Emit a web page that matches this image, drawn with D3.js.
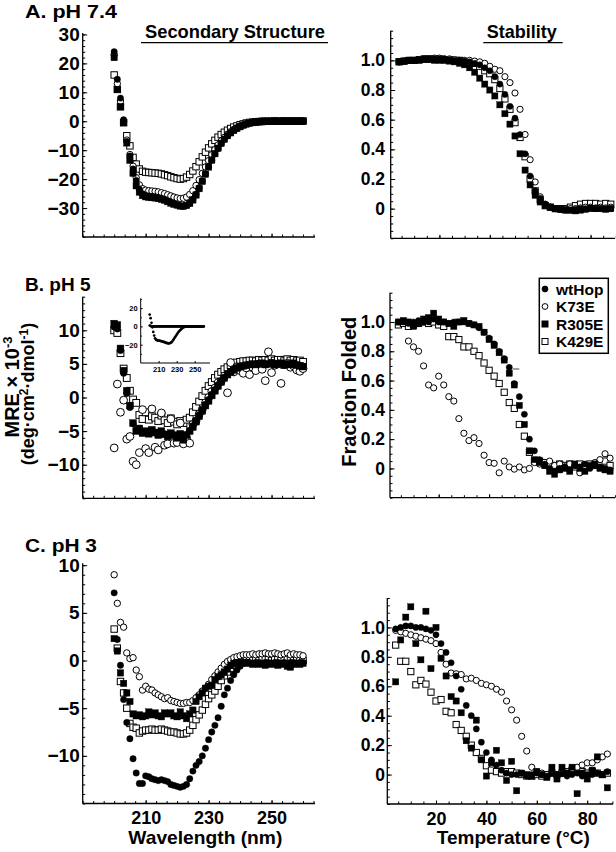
<!DOCTYPE html>
<html><head><meta charset="utf-8">
<script src="https://cdn.jsdelivr.net/npm/d3@7"></script>
<style>
body{margin:0;background:#fff}
svg{display:block}
text{font-family:"Liberation Sans",Arial,Helvetica,sans-serif;font-weight:bold;fill:#000}
</style>
</head><body>
<svg id="chart" width="616" height="852"></svg>
<script>
// ---------------- DATA ----------------
const wavelengths = [200,201,202,203,204,205,206,207,208,209,210,211,212,213,214,215,216,217,218,219,220,221,222,223,224,225,226,227,228,229,230,231,232,233,234,235,236,237,238,239,240,241,242,243,244,245,246,247,248,249,250,251,252,253,254,255,256,257,258,259,260];
const temperatures = [4,6,8,10,12,14,16,18,20,22,24,26,28,30,32,34,36,38,40,42,44,46,48,50,52,54,56,58,60,62,64,66,68,70,72,74,76,78,80,82,84,86,88];
const seriesNames = ["wtHop","K73E","R305E","K429E"];
const panelTitles = ["A. pH 7.4","B. pH 5","C. pH 3"];
const wavelengthTickLabels = [210,230,250];
const temperatureTickLabels = [20,40,60,80];

// A. pH 7.4 — CD spectra (MRE x 10^-3)
const cdA_wtHop = [24,14.5,8,0.5,-7,-12,-16.5,-20.5,-23.5,-25,-25.6,-25.8,-26,-26.1,-26.3,-26.6,-27,-27.5,-28,-28.5,-28.9,-29.2,-29.3,-29,-28.3,-27,-25.2,-23,-20.6,-18.2,-15.8,-13.5,-11.3,-9.4,-7.7,-6.3,-5,-4,-3.1,-2.4,-1.8,-1.3,-0.9,-0.6,-0.4,-0.25,-0.15,-0.1,-0.1,0,0,0.1,0,0,0.1,0,0,0.1,0,0.1,0];
const cdA_K73E = [23,13,7,0,-6.5,-11.5,-15.5,-19.5,-22,-23.3,-23.8,-24,-24.1,-24.2,-24.4,-24.7,-25,-25.4,-25.8,-26.2,-26.5,-26.7,-26.6,-26.2,-25.3,-24,-22.2,-20.2,-18,-15.8,-13.6,-11.6,-9.8,-8.2,-6.8,-5.6,-4.5,-3.6,-2.8,-2.2,-1.6,-1.2,-0.8,-0.5,-0.3,-0.2,-0.1,0,0,0,0.1,0,0.1,0.1,0,0.1,0.1,0,0.1,0.1,0.1];
const cdA_R305E = [22,11,5,-0.5,-7.5,-13.5,-18,-22.3,-24.5,-25.7,-26.1,-26.3,-26.4,-26.5,-26.7,-27,-27.3,-27.8,-28.3,-28.7,-29,-29.3,-29.4,-29.1,-28.4,-27.2,-25.5,-23.3,-20.8,-18.3,-15.8,-13.4,-11.2,-9.3,-7.6,-6.2,-5,-4,-3.2,-2.5,-1.9,-1.4,-1,-0.7,-0.5,-0.3,-0.2,-0.2,-0.1,-0.1,-0.1,0,-0.1,0,0,-0.1,0,0,0,0,0];
const cdA_K429E = [16,11,5,-0.5,-5,-8.5,-12.5,-14.8,-16.5,-17.3,-17.6,-17.7,-17.8,-17.9,-18,-18.2,-18.5,-18.8,-19.2,-19.5,-19.8,-20,-19.8,-19.3,-18.4,-17.2,-15.7,-14,-12.3,-10.7,-9.2,-7.8,-6.6,-5.5,-4.6,-3.8,-3.1,-2.5,-2,-1.6,-1.2,-0.9,-0.6,-0.4,-0.3,-0.2,-0.1,0,0,0,0,0.1,0,0,0.1,0.1,0,0.1,0,0.1,0.1];

// B. pH 5 — CD spectra
const cdB_wtHop = [10.5,10.2,7,3.6,0.6,-1.5,-3.9,-4.8,-4.9,-5.1,-5.2,-5.2,-5.1,-5.3,-5.4,-5.3,-5.4,-5.5,-5.5,-5.6,-5.7,-5.6,-5.8,-5.5,-4.9,-4.2,-3.4,-2.6,-1.8,-1,-0.3,0.5,1.2,1.9,2.5,3,3.5,3.9,4.2,4.4,4.6,4.7,4.8,4.9,4.9,5,5,5,5,5,5.1,5,5,5,4.9,5,5,5,4.9,4.8,4.7];
const cdB_K73E = [-7.5,2,-2.2,-0.4,-6.2,-5.8,-9.5,-10,-8.2,-1.8,-7.6,-8.2,-1.7,-7.4,-7.8,-2.3,-7.1,-6.9,-3.2,-6.8,-6.7,-3.8,-6.9,-6,-6.8,-4,-3.5,-2.5,-1.8,-0.8,0,0.9,1.4,2.2,2.4,3.2,0.7,5.2,3.8,4.6,4,3.6,4.4,3.4,4.5,4,5,4.2,2.5,6.8,3.7,4.8,5,2.1,4.9,5.1,4.5,4.7,4.1,3.9,4.3];
const cdB_R305E = [11,10.8,7.3,4,1,-1.2,-3.8,-5,-4.6,-5.3,-5,-5.4,-4.8,-5.2,-5.6,-5,-5.5,-5.8,-5.3,-5.6,-6,-5.4,-6.3,-5.6,-5,-4.4,-3.6,-2.8,-2,-1.2,-0.5,0.3,1,1.7,2.3,2.9,3.4,3.8,4.1,4.4,4.6,4.7,4.8,4.9,5,4.9,5,5.1,4.9,5,5.2,4.9,5,5.1,4.8,5,4.9,5.1,4.8,4.7,4.6];
const cdB_K429E = [10,9.6,6.6,4.3,2.9,1,-0.3,-0.8,-2.6,-3.2,-2.2,-3.3,-2.8,-3,-3.5,-2.7,-3.4,-3.8,-3.1,-3.6,-4,-3.5,-3.8,-3.3,-3,-2.2,-1.4,-0.6,0.2,1,1.7,2.3,2.9,3.4,3.8,4.2,4.5,4.8,5,5.2,5.3,5.4,5.4,5.5,5.5,5.4,5.6,5.5,5.6,5.5,5.7,5.5,5.6,5.6,5.4,5.7,5.5,5.6,5.4,5.5,5.3];

// B inset (MRE x 10^-3)
const insetHelix = [13,9,4,-1,-6,-10,-13,-14.5,-15,-15.5,-15.5,-15.5,-16,-16,-16.5,-17,-17,-17.5,-18,-18,-18.5,-18.5,-18.5,-18,-17.5,-16.5,-15,-13.5,-12,-10.5,-9,-7.5,-6,-5,-4,-3,-2,-1.3,-0.8,-0.4,-0.2,0,0,0,0,0,0,0,0,0,0,0,0,0,0,0,0,0,0,0,0];
const insetFlat = [1,0.5,0,0,0,0,0,0,0,0,0,0,0,0,0,0,0,0,0,0,0,0,0,0,0,0,0,0,0,0,0,0,0,0,0,0,0,0,0,0,0,0,0,0,0,0,0,0,0,0,0,0,0,0,0,0,0,0,0,0,0];
const insetTickLabelsY = [20,0,-20];

// C. pH 3 — CD spectra
const cdC_wtHop = [7.1,2.2,-0.5,-4.1,-6.5,-8.2,-10.3,-11.8,-12.9,-12.9,-12.1,-12.2,-12.4,-12.5,-12.6,-12.5,-12.6,-12.7,-13,-13.1,-13.2,-13.3,-13.2,-13,-12.4,-11.6,-11,-10.6,-10,-9.2,-8.3,-7.5,-6.8,-6,-4.8,-3.6,-2.9,-2.1,-1.5,-1,-0.6,-0.3,-0.2,-0.2,-0.3,-0.2,-0.2,-0.3,-0.2,-0.2,-0.3,-0.2,-0.2,-0.3,-0.2,-0.3,-0.2,-0.2,-0.3,-0.2,-0.2];
const cdC_K73E = [9,6,4,3.5,0.8,0.2,0.3,-1,-1.7,-3.1,-2.7,-3,-3.1,-3.4,-3.6,-3.8,-4,-3.9,-4.2,-4.3,-4.4,-4.5,-4.5,-4.4,-4.4,-4.2,-3.9,-3.6,-3.2,-2.9,-2.5,-2,-1.6,-1.2,-0.8,-0.4,-0.1,0.1,0.3,0.4,0.5,0.6,0.6,0.6,0.7,0.6,0.7,0.7,0.8,0.7,0.7,0.8,0.7,0.6,0.7,0.8,0.6,0.7,0.6,0.6,0.5];
const cdC_R305E = [2.3,1,-1.3,-2.4,-3.4,-4.3,-5.6,-5.8,-5.7,-5.9,-5.8,-5.4,-5.7,-5.5,-5.8,-5.9,-5.5,-5.6,-5.5,-5.8,-5.9,-5.4,-5.8,-6.1,-5.6,-5.2,-4.3,-3.8,-3.4,-2.9,-2.7,-2.6,-2,-1.7,-1.5,-1.2,-0.9,-0.5,-0.3,-0.2,-0.2,-0.3,-0.2,-0.3,-0.4,-0.3,-0.4,-0.3,-0.5,-0.4,-0.3,-0.4,-0.5,-0.3,-0.4,-0.6,-0.7,-0.4,-0.3,-0.4,-0.3];
const cdC_K429E = [3.3,1.3,-2.2,-3.4,-5,-6.6,-7,-7.1,-7.6,-7.4,-7.3,-7.3,-7.2,-7.3,-7.3,-7.2,-7.3,-7.4,-7.5,-7.5,-7.6,-7.7,-7.7,-7.6,-7.3,-6.8,-6.2,-5.7,-5.2,-4.6,-4,-3.6,-3.2,-2.7,-2.1,-1.6,-1.2,-0.8,-0.5,-0.3,-0.2,-0.1,0,0,0.1,0.1,0,0.1,0.2,0.1,0,0.1,0.1,0,0.1,0.2,0.1,0,0.1,0.1,0];

// Thermal melts (fraction folded)
const meltA_wtHop = [0.99,0.995,1,1,1.005,1.01,1.01,1.01,1.01,1.01,1.005,1,1,0.995,0.99,0.98,0.97,0.95,0.93,0.89,0.84,0.77,0.69,0.61,0.5,0.37,0.22,0.12,0.07,0.03,0.01,0,-0.005,-0.01,-0.01,-0.005,0,0,0.005,0,0,0,0];
const meltA_K73E = [0.99,0.995,1,1,1.005,1.01,1.01,1.015,1.015,1.01,1.01,1.005,1,1,1,0.995,0.99,0.98,0.96,0.94,0.93,0.89,0.85,0.78,0.67,0.5,0.33,0.18,0.08,0.03,0.01,0,-0.005,-0.005,0,0,0.005,0.01,0.01,0.005,0.01,0.005,0.01];
const meltA_R305E = [0.99,0.995,1,1,1,1.005,1.005,1,1,1,0.995,0.99,0.98,0.97,0.95,0.92,0.88,0.84,0.8,0.76,0.7,0.64,0.57,0.49,0.37,0.26,0.16,0.09,0.045,0.02,0.01,0,-0.005,-0.01,-0.01,-0.015,-0.01,-0.005,0,0,0,-0.005,0];
const meltA_K429E = [0.99,0.995,1,1,1.005,1.01,1.01,1.01,1.01,1.005,1.005,1,1,0.99,0.985,0.98,0.96,0.93,0.91,0.87,0.81,0.74,0.67,0.58,0.48,0.35,0.2,0.12,0.06,0.02,0.01,0,0,0,0.01,0.02,0.03,0.035,0.035,0.035,0.03,0.035,0.03];

const meltB_wtHop = [1,1,0.99,1,1.01,1,1,1.02,1,1,0.99,1,1,1,0.99,0.98,0.96,0.93,0.89,0.85,0.8,0.75,0.69,0.58,0.49,0.37,0.2,0.12,0.06,0.03,0,-0.02,0,0.01,-0.01,0.02,0.01,0.03,0,0.02,0.01,0,-0.01];
const meltB_K73E = [null,null,0.87,0.83,0.8,0.7,0.57,0.55,0.63,0.57,0.49,0.46,0.34,0.24,0.19,0.21,0.17,0.09,0.04,0.035,-0.03,0.05,0.01,-0.005,0.01,-0.01,0,0.04,0.03,0.02,0.05,0.02,0.03,0.01,0.03,0.02,-0.03,0.02,0.01,0.04,0.06,0.1,0.07];
const meltB_R305E = [1,1.01,1,0.97,0.99,1.02,1.03,1.06,1.02,1,0.99,0.97,1,1.01,0.99,0.98,0.97,0.93,0.88,0.84,0.79,0.74,0.65,0.57,0.43,0.3,0.12,0.06,0.04,0.02,-0.02,-0.04,-0.01,0,-0.02,0.03,0,-0.02,0.02,0.03,0,-0.01,-0.02];
const meltB_K429E = [0.98,0.99,0.97,0.98,0.99,1,0.99,1,0.98,0.97,0.9,0.9,0.88,0.83,0.83,0.8,0.77,0.72,0.67,0.63,0.58,0.52,0.45,0.41,0.3,0.22,0.11,0.05,0.05,0.04,0.03,0.02,0.03,0.02,0.03,0.01,0.03,0.02,0.03,0.02,0.04,0.05,0.02];

const meltC_wtHop = [0.99,1,1.01,1.01,1,1,0.99,0.98,0.95,0.89,0.83,0.76,0.67,0.58,0.47,0.4,0.31,0.22,0.15,0.1,0.065,0.03,0.01,0,0,0.01,-0.01,0,0.01,0,-0.01,0.01,0,0.005,-0.01,0,0.01,-0.01,0,0,0.01,0,0.02];
const meltC_K73E = [0.98,0.97,0.96,0.95,0.94,0.93,0.92,0.91,0.89,0.83,0.75,0.69,0.685,0.68,0.65,0.655,0.64,0.62,0.61,0.6,0.58,0.56,0.5,0.44,0.37,0.26,0.16,0.05,0.02,0.01,0,0.01,0,0.01,0.02,0.04,0.05,0.065,0.08,0.08,0.1,0.12,0.14];
const meltC_R305E = [0.63,0.915,1.07,1.14,0.89,0.78,1.11,0.72,1,0.79,0.67,0.53,0.5,0.42,0.23,0.18,0.37,0.1,-0.01,0.08,0.165,0.08,-0.04,0.09,-0.11,0.01,0,-0.01,0.02,0,-0.02,0.05,-0.03,0.05,0.01,0.05,-0.13,0.01,-0.03,0.03,0.12,0,-0.09];
const meltC_K429E = [0.88,0.77,0.77,0.7,0.61,0.64,0.615,0.56,0.5,0.51,0.43,0.42,0.34,0.3,0.26,0.2,0.15,0.11,0.06,0.03,0.02,0.01,0.02,0.02,0.01,0,-0.01,-0.01,0,-0.01,0,0.01,0,0.01,0.02,0.03,0.04,0.02,0.01,0.02,0.01,0,0.01];

// ---------------- DRAWING ----------------
const svg = d3.select("#chart");
svg.append("rect").attr("width",616).attr("height",852).attr("fill","#fff");
const FONT = '"Liberation Sans",Arial,Helvetica,sans-serif';

function txt(parent, x, y, s, size, anchor, len) {
  const t = parent.append("text").attr("x", x).attr("y", y)
    .attr("font-size", size).attr("text-anchor", anchor || "start").text(s);
  if (len) t.attr("textLength", len).attr("lengthAdjust", "spacingAndGlyphs");
  return t;
}

const markerStyle = {
  wtHop: {shape:"circle", fill:"#000"},
  K73E:  {shape:"circle", fill:"#fff"},
  R305E: {shape:"square", fill:"#000"},
  K429E: {shape:"square", fill:"#fff"}
};
const drawOrder = ["K429E","K73E","R305E","wtHop"];

function plotSeries(g, xs, ys, X, Y, name, size) {
  const st = markerStyle[name];
  const data = xs.map((v,i)=>({x:v, y:ys[i]})).filter(d => d.y !== null && d.y !== undefined);
  if (st.shape === "circle") {
    g.append("g").selectAll("circle").data(data).enter().append("circle")
      .attr("cx", d=>X(d.x)).attr("cy", d=>Y(d.y)).attr("r", size/2)
      .attr("fill", st.fill).attr("stroke", "#000").attr("stroke-width", st.fill==="#fff"?1:0.4);
  } else {
    g.append("g").selectAll("rect").data(data).enter().append("rect")
      .attr("x", d=>X(d.x)-size/2).attr("y", d=>Y(d.y)-size/2)
      .attr("width", size).attr("height", size)
      .attr("fill", st.fill).attr("stroke", "#000").attr("stroke-width", st.fill==="#fff"?1:0.4);
  }
}

function styleAxis(ax, size) {
  ax.select(".domain").remove();
  ax.selectAll("line").attr("stroke", "#000").attr("stroke-width", 1);
  ax.selectAll("text").attr("font-size", size).attr("font-family", FONT).attr("font-weight", "bold").attr("fill", "#000");
  ax.attr("font-family", null).attr("font-size", null);
}

function frame(g, axisX, xEnd, yTop, yBottom) {
  g.append("line").attr("x1", axisX).attr("x2", axisX).attr("y1", yTop).attr("y2", yBottom)
    .attr("stroke", "#000").attr("stroke-width", 1.3);
  g.append("line").attr("x1", axisX).attr("x2", xEnd).attr("y1", yBottom).attr("y2", yBottom)
    .attr("stroke", "#000").attr("stroke-width", 1.3);
}

function cdPanel(cfg) {
  const g = svg.append("g");
  const axisX = 82.7;
  const X = d3.scaleLinear().domain([190, 263.8]).range([axisX, 315]);
  const Y = d3.scaleLinear().domain(cfg.yDomain).range(cfg.yRange);
  const yBottom = cfg.yRange[0];
  frame(g, axisX, 315, cfg.yRange[1], yBottom);
  const yMinor = d3.range(cfg.yDomain[0], cfg.yDomain[1] + 1e-6, cfg.minor);
  styleAxis(g.append("g").attr("transform", `translate(${axisX},0)`)
    .call(d3.axisLeft(Y).tickValues(yMinor).tickSize(-2.5).tickFormat("")), 19);
  styleAxis(g.append("g").attr("transform", `translate(${axisX},0)`)
    .call(d3.axisLeft(Y).tickValues(cfg.yMajor).tickSize(-4.5).tickPadding(3).tickFormat(d3.format("d"))), 19);
  const xMinor = d3.range(0, 23).map(k => 190 + k * 10 / 3).filter(v => v <= 263.8);
  styleAxis(g.append("g").attr("transform", `translate(0,${yBottom})`)
    .call(d3.axisBottom(X).tickValues(xMinor).tickSize(-2.5).tickFormat("")), 18);
  const xAx = g.append("g").attr("transform", `translate(0,${yBottom})`)
    .call(d3.axisBottom(X).tickValues(wavelengthTickLabels).tickSize(-3.5).tickPadding(8)
      .tickFormat(cfg.xLabels ? d3.format("d") : ""));
  styleAxis(xAx, 18);
  const pg = g.append("g");
  drawOrder.forEach(n => plotSeries(pg, wavelengths, cfg.series[n], X, Y, n, (cfg.sizes && cfg.sizes[n]) || 6.4));
  return {g, X, Y};
}

function meltPanel(cfg) {
  const g = svg.append("g");
  const X = d3.scaleLinear().domain([0, 91]).range([cfg.t0, cfg.t0 + 91 * 2.52]);
  const Y = d3.scaleLinear().domain([-0.2, 1.2]).range(cfg.yRange);
  const yBottom = cfg.yRange[0];
  frame(g, cfg.axisX, cfg.xEnd, cfg.yRange[1], yBottom);
  const yMinor = d3.range(-4, 25).map(k => k * 0.05);
  styleAxis(g.append("g").attr("transform", `translate(${cfg.axisX},0)`)
    .call(d3.axisLeft(Y).tickValues(yMinor).tickSize(-2.5).tickFormat("")), 17);
  styleAxis(g.append("g").attr("transform", `translate(${cfg.axisX},0)`)
    .call(d3.axisLeft(Y).tickValues([0,0.2,0.4,0.6,0.8,1.0]).tickSize(-4.5).tickPadding(cfg.axisX - 385)
      .tickFormat(d => d === 0 ? "0" : d3.format(".1f")(d))), 17.5);
  const xMinor = d3.range(1, 19).map(k => k * 5);
  styleAxis(g.append("g").attr("transform", `translate(0,${yBottom})`)
    .call(d3.axisBottom(X).tickValues(xMinor).tickSize(-2.5).tickFormat("")), 17);
  styleAxis(g.append("g").attr("transform", `translate(0,${yBottom})`)
    .call(d3.axisBottom(X).tickValues(temperatureTickLabels).tickSize(-3.5).tickPadding(8)
      .tickFormat(cfg.xLabels ? d3.format("d") : "")), 18);
  const pg = g.append("g");
  drawOrder.forEach(n => plotSeries(pg, temperatures, cfg.series[n], X, Y, n, 6.2));
  return {g, X, Y};
}

// Panel A
cdPanel({yDomain:[-40,30.5], yRange:[237,33], yMajor:[30,20,10,0,-10,-20,-30], minor:2, xLabels:false,
  series:{wtHop:cdA_wtHop, K73E:cdA_K73E, R305E:cdA_R305E, K429E:cdA_K429E}});
meltPanel({axisX:390.7, t0:389, xEnd:615, yRange:[238.3,30.7], xLabels:false,
  series:{wtHop:meltA_wtHop, K73E:meltA_K73E, R305E:meltA_R305E, K429E:meltA_K429E}});

// Panel B
cdPanel({yDomain:[-15,15], yRange:[498.3,296.7], yMajor:[10,5,0,-5,-10], minor:1, xLabels:false,
  series:{wtHop:cdB_wtHop, K73E:cdB_K73E, R305E:cdB_R305E, K429E:cdB_K429E}, sizes:{K73E:7.8, R305E:6.8, K429E:6.8, wtHop:6.4}});
meltPanel({axisX:390, t0:388.3, xEnd:615, yRange:[497.7,292.7], xLabels:false,
  series:{wtHop:meltB_wtHop, K73E:meltB_K73E, R305E:meltB_R305E, K429E:meltB_K429E}});

// Panel C
cdPanel({yDomain:[-15,10.2], yRange:[803.5,563.3], yMajor:[10,5,0,-5,-10], minor:1, xLabels:true,
  series:{wtHop:cdC_wtHop, K73E:cdC_K73E, R305E:cdC_R305E, K429E:cdC_K429E}});
meltPanel({axisX:387.3, t0:385.6, xEnd:613, yRange:[804,598], xLabels:true,
  series:{wtHop:meltC_wtHop, K73E:meltC_K73E, R305E:meltC_R305E, K429E:meltC_K429E}});

// Inset in panel B
(function(){
  const g = svg.append("g");
  const X = d3.scaleLinear().domain([190, 267]).range([140.7, 210]);
  const Y = d3.scaleLinear().domain([-40, 30]).range([363, 299]);
  frame(g, 140.7, 210, 298.3, 363);
  g.selectAll("line").attr("stroke-width", 1);
  styleAxis(g.append("g").attr("transform","translate(140.7,0)")
    .call(d3.axisLeft(Y).tickValues(insetTickLabelsY).tickSize(-2).tickPadding(3).tickFormat(d3.format("d"))), 7.5);
  styleAxis(g.append("g").attr("transform","translate(140.7,0)")
    .call(d3.axisLeft(Y).tickValues([-30,-10,10,30]).tickSize(-1.2).tickFormat("")), 7.5);
  styleAxis(g.append("g").attr("transform","translate(0,363)")
    .call(d3.axisBottom(X).tickValues(wavelengthTickLabels).tickSize(-2).tickPadding(4).tickFormat(d3.format("d"))), 7.5);
  const dg = g.append("g");
  [insetFlat, insetHelix].forEach(arr => {
    dg.append("g").selectAll("circle").data(wavelengths.map((w,i)=>({x:w, y:arr[i]}))).enter().append("circle")
      .attr("cx", d=>X(d.x)).attr("cy", d=>Y(d.y)).attr("r", 1.35).attr("fill", "#000");
  });
})();

// Panel titles & headers
txt(svg, 25, 17.5, panelTitles[0], 18, "start", 92);
txt(svg, 25, 290.7, panelTitles[1], 19, "start");
txt(svg, 25, 551.7, panelTitles[2], 19, "start", 72);

txt(svg, 235, 37.5, "Secondary Structure", 19, "middle", 180);
svg.append("line").attr("x1",141).attr("x2",328).attr("y1",42.7).attr("y2",42.7).attr("stroke","#000").attr("stroke-width",1.3);
txt(svg, 521.7, 37.5, "Stability", 19, "middle", 70);
svg.append("line").attr("x1",483.3).attr("x2",562.7).attr("y1",42.7).attr("y2",42.7).attr("stroke","#000").attr("stroke-width",1.3);

// Axis titles
txt(svg, 205.3, 844, "Wavelength (nm)", 19, "middle", 154);
txt(svg, 513.3, 844, "Temperature (°C)", 19, "middle", 153);

svg.append("text").attr("transform","translate(356,391.7) rotate(-90)")
  .attr("text-anchor","middle").attr("font-size",20).attr("textLength",150).attr("lengthAdjust","spacingAndGlyphs")
  .text("Fraction Folded");

const yl1 = svg.append("text").attr("transform","translate(18.5,387) rotate(-90)")
  .attr("text-anchor","middle").attr("font-size",20);
yl1.append("tspan").text("MRE × 10");
yl1.append("tspan").attr("dy",-7).attr("font-size",13).text("-3");

const yl2 = svg.append("text").attr("transform","translate(33.5,394) rotate(-90)")
  .attr("text-anchor","middle").attr("font-size",18);
yl2.append("tspan").text("(deg·cm");
yl2.append("tspan").attr("dy",-6).attr("font-size",12).text("2");
yl2.append("tspan").attr("dy",6).text("·dmol");
yl2.append("tspan").attr("dy",-6).attr("font-size",12).text("-1");
yl2.append("tspan").attr("dy",6).text(")");

// Legend
(function(){
  const lg = svg.append("g");
  lg.append("rect").attr("x",539.3).attr("y",278.3).attr("width",69).attr("height",75)
    .attr("fill","#fff").attr("stroke","#000").attr("stroke-width",1.5);
  seriesNames.forEach((n,i) => {
    const cy = 289 + i * 17.5;
    const st = markerStyle[n];
    if (st.shape === "circle") {
      lg.append("circle").attr("cx",545).attr("cy",cy).attr("r",2.9)
        .attr("fill",st.fill).attr("stroke","#000").attr("stroke-width",1);
    } else {
      lg.append("rect").attr("x",542).attr("y",cy-3).attr("width",6).attr("height",6)
        .attr("fill",st.fill).attr("stroke","#000").attr("stroke-width",1);
    }
    txt(lg, 556, cy + 5.5, n, 15.5, "start");
  });
})();

// small stray dash mark seen in panel B stability plot
svg.append("line").attr("x1",512.7).attr("x2",519.3).attr("y1",369).attr("y2",369)
  .attr("stroke","#444").attr("stroke-width",1);
</script>
</body></html>
